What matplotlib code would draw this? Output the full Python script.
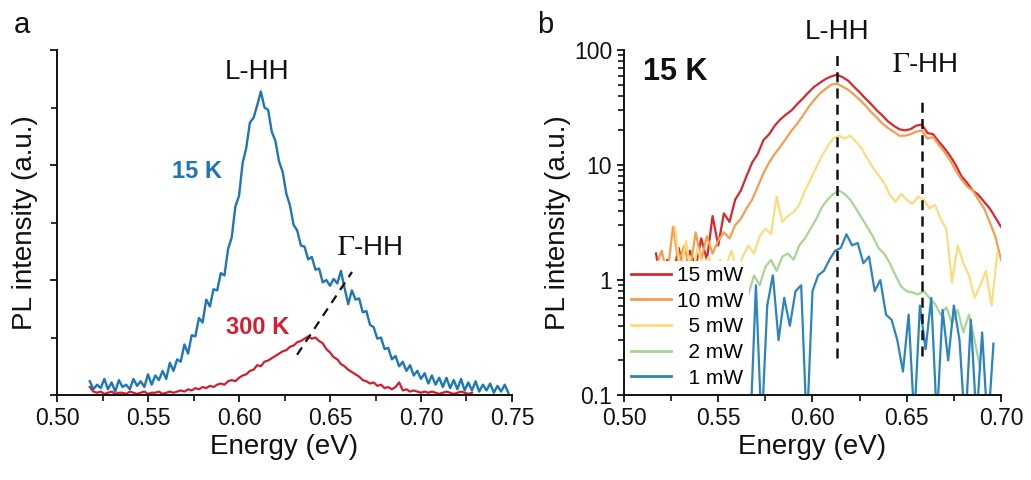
"""Two-panel PL spectra: (a) 15 K vs 300 K linear, (b) power series at 15 K, log scale."""

import numpy as np
import matplotlib

matplotlib.use("Agg")
import matplotlib.pyplot as plt
from matplotlib.ticker import MultipleLocator, LogLocator, NullFormatter, FormatStrFormatter
from matplotlib.transforms import blended_transform_factory

# --- palette ---
BLUE_A = "#1c76b8"
RED_A = "#d21f30"
INK = "#111111"
SERIES_B = ["#d7272f", "#f89d4e", "#fddc7c", "#a8d594", "#2b84c1"]
# two plain spaces ~ one digit width, keeps labels right-aligned
LABELS_B = ["15 mW", "10 mW", "  5 mW", "  2 mW", "  1 mW"]

# --- panel a: 15 K spectrum (start 0.518 eV, step 0.002 eV) ---
a15_start, a15_step = 0.518, 0.002
a15_vals = [
    0.12, 0.05, 0.09, 0.06, 0.14, 0.05, 0.11, 0.03, 0.13, 0.07,
    0.09, 0.05, 0.14, 0.08, 0.12, 0.07, 0.18, 0.09, 0.17, 0.13,
    0.21, 0.14, 0.28, 0.21, 0.31, 0.29, 0.44, 0.36, 0.52, 0.51,
    0.67, 0.63, 0.83, 0.77, 0.92, 0.91, 1.06, 1.04, 1.27, 1.37,
    1.64, 1.73, 2.02, 2.15, 2.37, 2.41, 2.52, 2.64, 2.50, 2.48,
    2.29, 2.21, 2.03, 1.94, 1.75, 1.65, 1.48, 1.43, 1.30, 1.29,
    1.18, 1.20, 1.09, 1.10, 0.98, 1.00, 0.95, 1.01, 0.97, 1.08,
    0.93, 0.79, 0.91, 0.83, 0.84, 0.72, 0.73, 0.61, 0.59, 0.49,
    0.50, 0.40, 0.41, 0.31, 0.34, 0.25, 0.29, 0.21, 0.26, 0.17,
    0.21, 0.14, 0.19, 0.10, 0.17, 0.09, 0.15, 0.07, 0.15, 0.06,
    0.13, 0.05, 0.14, 0.04, 0.11, 0.04, 0.12, 0.03, 0.09, 0.04,
    0.10, 0.02, 0.08, 0.03, 0.09, 0.02,
]

# --- panel a: 300 K spectrum (start 0.518 eV, step 0.002 eV) ---
a300_start, a300_step = 0.518, 0.002
a300_vals = [
    0.07, 0.03, 0.02, 0.03, 0.01, 0.02, 0.03, 0.01, 0.02, 0.02,
    0.01, 0.03, 0.02, 0.01, 0.02, 0.03, 0.01, 0.02, 0.02, 0.03,
    0.01, 0.02, 0.03, 0.02, 0.03, 0.04, 0.03, 0.05, 0.04, 0.06,
    0.05, 0.07, 0.06, 0.08, 0.07, 0.09, 0.10, 0.09, 0.12, 0.13,
    0.12, 0.15, 0.17, 0.18, 0.21, 0.22, 0.26, 0.25, 0.29, 0.30,
    0.32, 0.34, 0.36, 0.38, 0.39, 0.42, 0.43, 0.46, 0.47, 0.49,
    0.51, 0.49, 0.50, 0.47, 0.45, 0.40, 0.37, 0.33, 0.31, 0.27,
    0.25, 0.22, 0.20, 0.18, 0.16, 0.13, 0.12, 0.10, 0.11, 0.08,
    0.09, 0.06, 0.07, 0.05, 0.07, 0.11, 0.04, 0.05, 0.03, 0.04,
    0.03, 0.02, 0.03, 0.02, 0.03, 0.02, 0.01, 0.02, 0.03, 0.02,
    0.01, 0.02, 0.03, 0.02, 0.01, 0.02,
]

# --- panel b: power series at 15 K (step 0.003 eV) ---
b_step = 0.003
b15_start = 0.517
b15_vals = [
    1.7, 0.9, 1.5, 1.1, 1.9, 1.2, 1.8, 1.3, 2.3, 1.5,
    3.6, 2.0, 3.8, 3.2, 5.0, 6.0, 8.0, 10.5, 12.5, 16.5,
    18.5, 22, 25, 27.5, 30, 34, 38, 43, 48, 52,
    56, 59, 61, 58, 54, 48, 43, 38, 34, 30,
    27, 24, 22, 20.5, 20, 20.5, 22, 22.5, 19, 18.5,
    16, 14, 12, 10, 8.0, 7.0, 6.0, 5.5, 4.8, 4.2,
    3.5, 2.9,
]
b10_start = 0.517
b10_vals = [
    1.3, 1.8, 1.1, 2.9, 1.4, 2.0, 1.2, 2.6, 1.5, 2.4,
    1.7, 2.2, 2.6, 2.3, 3.0, 3.4, 4.2, 5.0, 6.5, 8.5,
    10.5, 12.5, 14.5, 17, 20, 23, 27, 32, 37, 42,
    46, 50, 51, 48, 45, 41, 37, 33, 29, 26,
    23, 21, 19.5, 18, 18, 18.5, 19.5, 20, 17, 17.5,
    15, 13, 11, 9, 7.5, 6.5, 6.0, 5.0, 4.2, 3.2,
    2.4, 1.5,
]
b5_start = 0.527
b5_vals = [
    2.9, 1.2, 2.2, 1.0, 1.9, 1.3, 1.6, 1.1, 1.5, 1.3,
    1.8, 1.2, 1.6, 2.0, 1.7, 2.4, 2.8, 2.5, 5.3, 3.2,
    3.6, 3.9, 4.5, 6.0, 7.5, 9.5, 12, 14.5, 17, 18,
    17, 18, 16, 14, 11.5, 9.5, 8.2, 7.0, 5.5, 4.8,
    5.6, 5.0, 4.6, 5.3, 5.0, 4.2, 4.5, 3.4, 2.8, 0.95,
    2.0, 1.4, 1.1, 0.7, 0.9, 1.2, 0.6, 1.7,
]
b2_start = 0.566
b2_vals = [
    0.75, 1.1, 0.9, 1.3, 1.5, 1.2, 1.6, 1.7, 1.5, 2.0,
    2.3, 2.8, 3.4, 4.3, 5.0, 5.6, 6.0, 5.6, 5.0, 4.2,
    3.5, 2.9, 2.4, 1.9, 1.7, 1.4, 1.1, 0.88, 0.8, 0.78,
    0.75, 0.8, 0.7, 0.62, 0.5, 0.58, 0.42, 0.55, 0.35, 0.5,
    0.3, 0.17,
]
b1_start = 0.567
b1_vals = [
    0.05, 0.9, 0.05, 0.6, 1.1, 0.3, 0.7, 0.4, 0.8, 0.9,
    0.05, 0.8, 1.1, 1.2, 1.5, 1.8, 1.9, 2.5, 2.0, 2.1,
    1.4, 1.6, 0.8, 1.0, 0.5, 0.45, 0.3, 0.16, 0.5, 0.06,
    0.6, 0.25, 0.7, 0.06, 0.55, 0.2, 0.6, 0.3, 0.05, 0.45,
    0.06, 0.35, 0.05, 0.28,
]

# peak markers
LHH_A = [0.6319, 0.6621]      # energy ends of dashed guide, panel a
LHH_A_Y = [0.35, 1.07]
LHH_B = 0.6128
GHH_B = 0.658


def grid(start, step, vals):
    return start + step * np.arange(len(vals))


plt.rcParams["font.family"] = ["Liberation Sans", "DejaVu Sans"]
plt.rcParams["mathtext.fontset"] = "stix"


def style_axes(ax):
    for s in ("top", "right"):
        ax.spines[s].set_visible(False)
    for s in ("left", "bottom"):
        ax.spines[s].set_linewidth(1.4)
        ax.spines[s].set_color(INK)
    ax.tick_params(which="major", direction="out", length=5, width=1.3,
                   labelsize=16.5, colors=INK)
    ax.tick_params(which="minor", direction="out", length=4, width=1.2, colors=INK)


fig = plt.figure(figsize=(10.31, 4.8), dpi=100, facecolor="white")
ax_a = fig.add_axes([0.0553, 0.177, 0.4413, 0.7188])
ax_b = fig.add_axes([0.6052, 0.177, 0.3657, 0.7188])

# ---------------- panel a ----------------
ax_a.plot(grid(a15_start, a15_step, a15_vals), a15_vals, color=BLUE_A, lw=1.7, zorder=3)
ax_a.plot(grid(a300_start, a300_step, a300_vals), a300_vals, color=RED_A, lw=1.6, zorder=2)
ax_a.plot(LHH_A, LHH_A_Y, color=INK, lw=1.6, ls=(0, (4, 3)), zorder=4)

ax_a.set_xlim(0.5, 0.75)
ax_a.set_ylim(0, 3)
ax_a.xaxis.set_major_locator(MultipleLocator(0.05))
ax_a.xaxis.set_minor_locator(MultipleLocator(0.025))
ax_a.yaxis.set_major_locator(MultipleLocator(1))
ax_a.yaxis.set_minor_locator(MultipleLocator(0.5))
ax_a.xaxis.set_major_formatter(FormatStrFormatter("%.2f"))
style_axes(ax_a)
ax_a.tick_params(axis="y", labelleft=False)
ax_a.set_xlabel("Energy (eV)", fontsize=20, color=INK, labelpad=3)
ax_a.set_ylabel("PL intensity (a.u.)", fontsize=20, color=INK, labelpad=6)

ax_a.text(0.6099, 2.81, "L-HH", fontsize=20, ha="center", va="center", color=INK)
ax_a.text(0.5769, 1.94, "15 K", fontsize=17, fontweight="bold", ha="center",
          va="center", color=BLUE_A)
ax_a.text(0.6104, 0.59, "300 K", fontsize=17, fontweight="bold", ha="center",
          va="center", color=RED_A)
ax_a.text(0.672, 1.28, r"$\mathrm{\Gamma}$-HH", fontsize=20, ha="center",
          va="center", color=INK)

# ---------------- panel b ----------------
series_b = [
    (b15_start, b15_vals), (b10_start, b10_vals), (b5_start, b5_vals),
    (b2_start, b2_vals), (b1_start, b1_vals),
]
for (start, vals), col, lab in zip(series_b, SERIES_B, LABELS_B):
    ax_b.plot(grid(start, b_step, vals), vals, color=col, lw=1.6, label=lab)

ax_b.plot([LHH_B, LHH_B], [0.21, 90], color=INK, lw=1.8, ls=(0, (4, 2.5)), zorder=6)
ax_b.plot([GHH_B, GHH_B], [0.22, 40], color=INK, lw=1.8, ls=(0, (4, 2.5)), zorder=6)

ax_b.set_yscale("log")
ax_b.set_xlim(0.5, 0.7)
ax_b.set_ylim(0.1, 100)
ax_b.xaxis.set_major_locator(MultipleLocator(0.05))
ax_b.xaxis.set_minor_locator(MultipleLocator(0.025))
ax_b.xaxis.set_major_formatter(FormatStrFormatter("%.2f"))
ax_b.set_yticks([0.1, 1, 10, 100], ["0.1", "1", "10", "100"])
ax_b.yaxis.set_minor_locator(LogLocator(base=10, subs=np.arange(2, 10)))
ax_b.yaxis.set_minor_formatter(NullFormatter())
style_axes(ax_b)
ax_b.set_xlabel("Energy (eV)", fontsize=20, color=INK, labelpad=3)
ax_b.set_ylabel("PL intensity (a.u.)", fontsize=20, color=INK, labelpad=2)

trans_b = blended_transform_factory(ax_b.transData, ax_b.transAxes)
ax_b.text(LHH_B, 1.052, "L-HH", fontsize=20, ha="center", va="center",
          color=INK, transform=trans_b)
ax_b.text(0.6597, 0.957, r"$\mathrm{\Gamma}$-HH", fontsize=20, ha="center",
          va="center", color=INK, transform=trans_b)
ax_b.text(0.135, 0.936, "15 K", fontsize=22, fontweight="bold", ha="center",
          va="center", color=INK, transform=ax_b.transAxes)

leg = ax_b.legend(loc="lower left", bbox_to_anchor=(0.0, 0.0), fontsize=15,
                  frameon=True, facecolor="white", edgecolor="none",
                  framealpha=1.0, fancybox=False, handlelength=1.9,
                  handletextpad=0.3, labelspacing=0.32, borderpad=0.25,
                  borderaxespad=0.1)
leg.set_zorder(5)
for ln in leg.get_lines():
    ln.set_linewidth(2.0)

# panel letters
fig.text(0.021, 0.948, "a", fontsize=21, color=INK, ha="center", va="center")
fig.text(0.529, 0.948, "b", fontsize=21, color=INK, ha="center", va="center")

fig.savefig("out.png", dpi=100, facecolor="white")
